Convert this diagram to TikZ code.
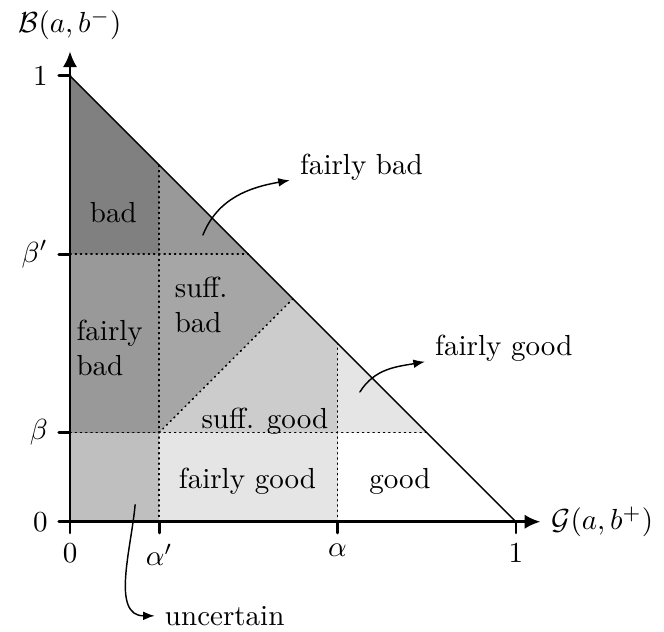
\documentclass[tikz,border=0pt]{standalone}
\usepackage{amsmath}
\usetikzlibrary{arrows.meta}
\begin{document}
\begin{tikzpicture}[>={Latex[length=4pt,width=3pt]}, x=5.4cm, y=5.4cm, line join=round, line cap=round]
	\tikzset{declare function={xmax=1.055;ymax=1.055;tk=0.025;},
		sep/.style={dash pattern=on 0.4pt off 1.4pt, line width=0.5pt},
		axis/.style={line width=1pt},
		axisarrow/.style={axis,-{Latex[length=5.5pt,width=5pt]}}}
	\useasboundingbox (-0.157,-0.247) rectangle (1.332,1.170);
	\def\ap{0.2}% alpha'
	\def\al{0.6}% alpha
	\def\be{0.2}% beta
	\def\bp{0.6}% beta'
	% regions
	\fill[black!50] (0,\bp) -- (\ap,\bp) -- (\ap,0.8) -- (0,1) -- cycle;
	\fill[black!40] (0,\be) rectangle (\ap,\bp);
	\fill[black!40] (\ap,\bp) -- (0.4,\bp) -- (\ap,0.8) -- cycle;
	\fill[black!35] (\ap,\be) -- (0.5,0.5) -- (0.4,\bp) -- (\ap,\bp) -- cycle;
	\fill[black!20] (\ap,\be) -- (\al,\be) -- (\al,0.4) -- (0.5,0.5) -- cycle;
	\fill[black!10] (\al,\be) -- (0.8,\be) -- (\al,0.4) -- cycle;
	\fill[black!10] (\ap,0) rectangle (\al,\be);
	\fill[black!25] (0,0) rectangle (\ap,\be);
	% borders
	\draw[sep] (0,\be) -- (0.8,\be);
	\draw[sep] (0,\bp) -- (0.4,\bp);
	\draw[sep] (\ap,0) -- (\ap,0.8);
	\draw[sep] (\al,0) -- (\al,0.4);
	\draw[sep] (\ap,\be) -- (0.5,0.5);
	\draw[line width=0.5pt] (0,1) -- (1,0);
	% axes
	\draw[axisarrow] (0,0) -- (xmax,0) node[right] (gx) {$\mathcal{G}(a,b^+)$};
	\draw[axisarrow] (0,0) -- (0,ymax) node[above] (by) {$\mathcal{B}(a,b^-)$};
	\foreach \x/\t/\n in {0/0/o,\ap/\alpha'/ap,\al/\alpha/al,1/1/i}
		\draw[axis] (\x,0) -- (\x,-tk) node[below] (tx\n) {$\t$};
	\foreach \y/\t/\n in {0/0/o,\be/\beta/be,\bp/\beta'/bp,1/1/i}
		\draw[axis] (0,\y) -- (-tk,\y) node[left] (ty\n) {$\t$};
	% labels
	\node (bad) at (0.097,0.693) {bad};
	\node[align=left] (fbad) at (0.089,0.39) {fairly\\bad};
	\node[align=left] (sbad) at (0.294,0.487) {suff.\\bad};
	\node (sgood) at (0.437,0.226) {suff. good};
	\node (fgood) at (0.398,0.09) {fairly good};
	\node (good) at (0.74,0.09) {good};
	% call-outs
	\coordinate (fbs) at (0.298,0.643);
	\node[right] (fbc) at (0.493,0.794) {fairly bad};
	\draw[->,line width=0.5pt] (fbs) to[out=68,in=190] (fbc);
	\coordinate (fgs) at (0.650,0.291);
	\node[right] (fgc) at (0.796,0.39) {fairly good};
	\draw[->,line width=0.5pt] (fgs) to[out=58,in=190] (fgc);
	\coordinate (us) at (0.146,0.038);
	\node[right] (uc) at (0.19,-0.211) {uncertain};
	\draw[->,line width=0.5pt] (us) to[out=-95,in=180] (uc);
\end{tikzpicture}
\end{document}
